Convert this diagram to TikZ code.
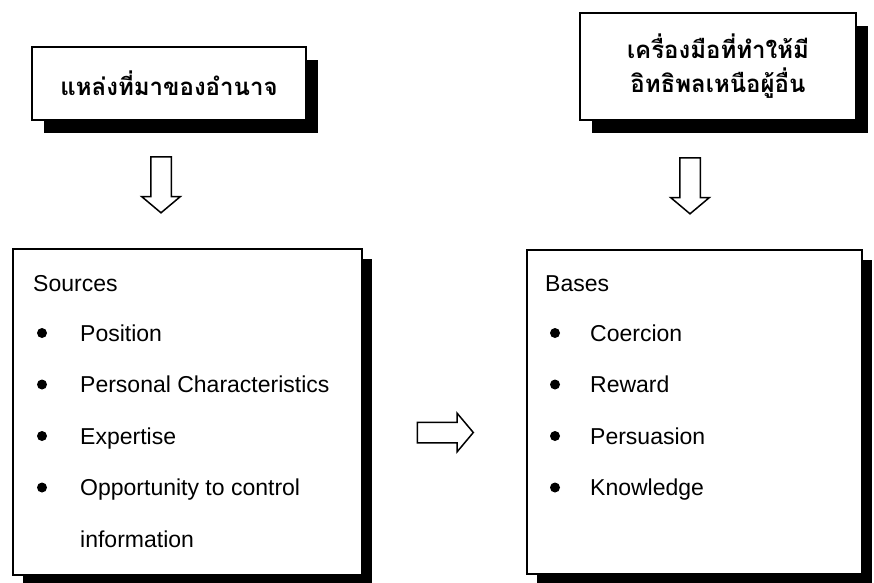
\documentclass[tikz,border=0pt]{standalone}
\usepackage{fontspec}
\setmainfont{Liberation Sans}
\newfontfamily\thaifont[Script=Thai]{Loma}
\usetikzlibrary{shapes.arrows,shadows}

\begin{document}
\begin{tikzpicture}[x=1pt,y=-1pt,
  titlebox/.style={draw, line width=1.5pt, fill=white, align=center,
    font=\thaifont\bfseries\fontsize{24}{34}\selectfont,
    drop shadow={shadow xshift=12pt, shadow yshift=-13pt, fill=black, opacity=1}},
  listbox/.style={draw, line width=1.5pt, fill=white,
    drop shadow={shadow xshift=10pt, shadow yshift=-10pt, fill=black, opacity=1}},
  listitem/.style={anchor=base west, inner sep=0pt, font=\fontsize{23}{23}\selectfont},
  bulletdot/.style={circle, fill=black, inner sep=0pt, minimum size=10pt},
  blockarrow/.style={single arrow, draw, line width=1.5pt, inner sep=9.5pt,
    minimum width=37pt, minimum height=56pt,
    single arrow head extend=9pt, single arrow tip angle=100}]
\useasboundingbox (0,0) rectangle (874,582);
%title boxes
\node[titlebox, minimum width=274pt, minimum height=73pt] (source) at (169,83.5) {แหล่งที่มาของอำนาจ};
\node[titlebox, minimum width=276pt, minimum height=107pt] (tool) at (718,66.5) {เครื่องมือที่ทำให้มี\\อิทธิพลเหนือผู้อื่น};
%list boxes
\node[listbox, minimum width=349pt, minimum height=326pt] (sources) at (187.5,412) {};
\node[listbox, minimum width=335pt, minimum height=324pt] (bases) at (694.5,412) {};
%block arrows
\node[blockarrow, rotate=-90] (downleft) at (161,180.5) {};
\node[blockarrow, rotate=-90] (downright) at (690,181.5) {};
\node[blockarrow] (across) at (441,432.5) {};
%left list
\node[listitem] (srchead) at (33,291) {Sources};
\foreach \txt [count=\i] in {Position, Personal Characteristics, Expertise, Opportunity to control}{
   \node[bulletdot] (sdot\i) at (42,{281.5+51.5*\i}) {};
   \node[listitem] (sitem\i) at (80,{289.5+51.5*\i}) {\txt};
}
\node[listitem] (sitem5) at (80,547) {information};
%right list
\node[listitem] (basehead) at (545,291) {Bases};
\foreach \txt [count=\i] in {Coercion, Reward, Persuasion, Knowledge}{
   \node[bulletdot] (bdot\i) at (555,{281.5+51.5*\i}) {};
   \node[listitem] (bitem\i) at (590,{289.5+51.5*\i}) {\txt};
}
\end{tikzpicture}
\end{document}
